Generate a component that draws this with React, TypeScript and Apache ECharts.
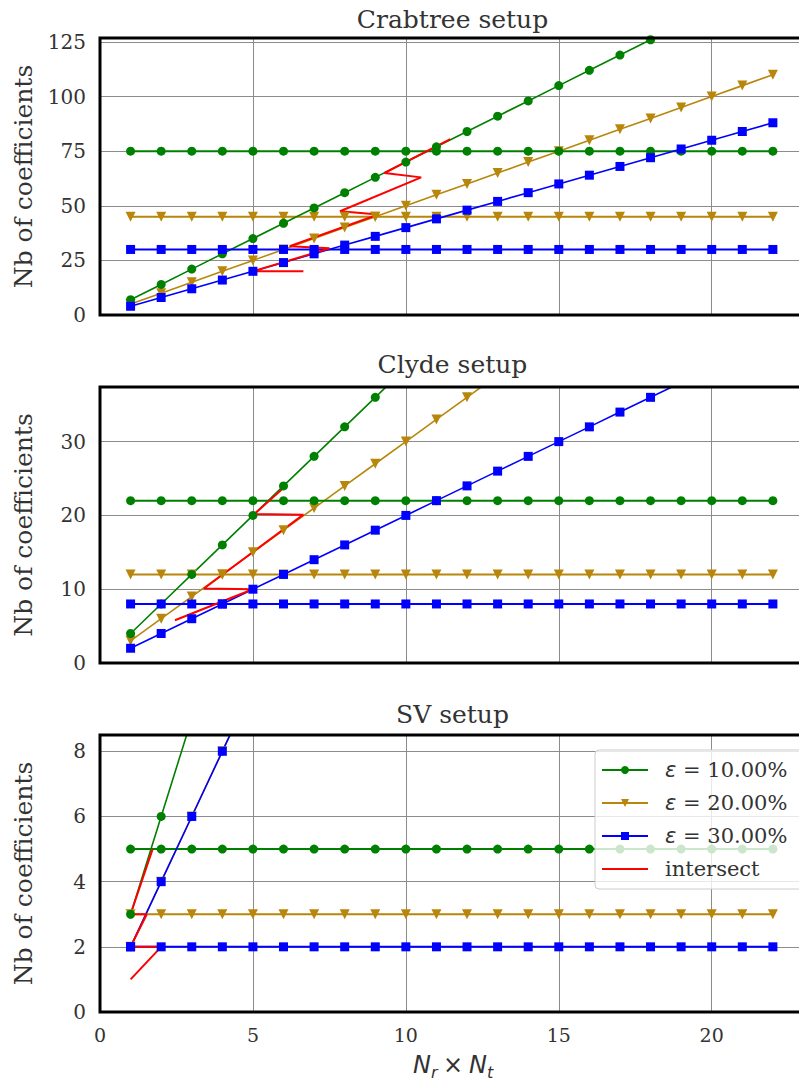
import React, { useEffect, useRef } from "react";
import * as echarts from "echarts";

// ---------- data ----------
const nrNt = [1, 2, 3, 4, 5, 6, 7, 8, 9, 10, 11, 12, 13, 14, 15, 16, 17, 18, 19, 20, 21, 22];

const legendNames = ["ε = 10.00%", "ε = 20.00%", "ε = 30.00%", "intersect"];

// Crabtree setup
const crabEps10 = [7, 14, 21, 28, 35, 42, 49, 56, 63, 70, 77, 84, 91, 98, 105, 112, 119, 126, 133];
const crabEps20 = [5, 10, 15, 20, 25, 30, 35, 40, 45, 50, 55, 60, 65, 70, 75, 80, 85, 90, 95, 100, 105, 110];
const crabEps30 = [4, 8, 12, 16, 20, 24, 28, 32, 36, 40, 44, 48, 52, 56, 60, 64, 68, 72, 76, 80, 84, 88];
const crabFlat10 = [75, 75, 75, 75, 75, 75, 75, 75, 75, 75, 75, 75, 75, 75, 75, 75, 75, 75, 75, 75, 75, 75];
const crabFlat20 = [45, 45, 45, 45, 45, 45, 45, 45, 45, 45, 45, 45, 45, 45, 45, 45, 45, 45, 45, 45, 45, 45];
const crabFlat30 = [30, 30, 30, 30, 30, 30, 30, 30, 30, 30, 30, 30, 30, 30, 30, 30, 30, 30, 30, 30, 30, 30];
const crabInterX = [6.65, 5.0, 7.5, 6.2, 9.1, 7.85, 10.5, 9.3, 11.45];
const crabInterY = [20, 20, 30.5, 31.5, 46, 47.5, 63, 65, 80.5];

// Clyde setup
const clydeEps10 = [4, 8, 12, 16, 20, 24, 28, 32, 36, 40];
const clydeEps20 = [3, 6, 9, 12, 15, 18, 21, 24, 27, 30, 33, 36, 39];
const clydeEps30 = [2, 4, 6, 8, 10, 12, 14, 16, 18, 20, 22, 24, 26, 28, 30, 32, 34, 36, 38];
const clydeFlat10 = [22, 22, 22, 22, 22, 22, 22, 22, 22, 22, 22, 22, 22, 22, 22, 22, 22, 22, 22, 22, 22, 22];
const clydeFlat20 = [12, 12, 12, 12, 12, 12, 12, 12, 12, 12, 12, 12, 12, 12, 12, 12, 12, 12, 12, 12, 12, 12];
const clydeFlat30 = [8, 8, 8, 8, 8, 8, 8, 8, 8, 8, 8, 8, 8, 8, 8, 8, 8, 8, 8, 8, 8, 8];
const clydeInterX = [2.45, 5.0, 3.4, 6.65, 5.05, 6.05];
const clydeInterY = [5.8, 10, 10.1, 20.1, 20.2, 23.9];

// SV setup
const svEps10 = [3, 6, 9];
const svEps20 = [2, 4, 6, 8, 10];
const svEps30 = [2, 4, 6, 8, 10];
const svFlat10 = [5, 5, 5, 5, 5, 5, 5, 5, 5, 5, 5, 5, 5, 5, 5, 5, 5, 5, 5, 5, 5, 5];
const svFlat20 = [3, 3, 3, 3, 3, 3, 3, 3, 3, 3, 3, 3, 3, 3, 3, 3, 3, 3, 3, 3, 3, 3];
const svFlat30 = [2, 2, 2, 2, 2, 2, 2, 2, 2, 2, 2, 2, 2, 2, 2, 2, 2, 2, 2, 2, 2, 2];
const svInterX = [1, 2, 1, 1.53, 1, 1.72];
const svInterY = [1, 2, 2, 3, 3, 5];

const panelTitles = ["Crabtree setup", "Clyde setup", "SV setup"];
const yMax = [126.8, 37.4, 8.5];
const yStep = [25, 10, 2];
const xMax = 23.05;
const xStep = 5;

// ---------- style ----------
const GREEN = "#008000";
const GOLD = "#b8860b";
const BLUE = "#0000ff";
const RED = "#ff0000";
const TXT = "#333333";
const SERIF = "'DejaVu Serif', serif";

const gridLeft = 100;
const gridWidth = 705;
const gridTops = [38, 387, 735];
const gridHeights = [277, 276, 277];
const titleY = [19.5, 364.5, 714.5];

function pairs(ys: number[], xs: number[] = nrNt) {
  return ys.map((y, i) => [xs[i], y]);
}

function line(name: string, color: string, symbol: string, rotate: number, data: number[][], g: number, width = 2) {
  return {
    type: "line",
    name,
    xAxisIndex: g,
    yAxisIndex: g,
    data,
    symbol,
    symbolSize: symbol === "triangle" ? 10 : 9,
    symbolRotate: rotate,
    showSymbol: symbol !== "none",
    showAllSymbol: true,
    clip: true,
    lineStyle: { color, width },
    itemStyle: { color },
    emphasis: { disabled: true },
    silent: true,
  };
}

function panelSeries(g: number, e10: number[], e20: number[], e30: number[], f10: number[], f20: number[], f30: number[], ix: number[], iy: number[]) {
  return [
    line(legendNames[1], GOLD, "triangle", 180, pairs(e20), g, 1.6),
    line(legendNames[1], GOLD, "triangle", 180, pairs(f20), g),
    line(legendNames[0], GREEN, "circle", 0, pairs(e10), g, 1.6),
    line(legendNames[0], GREEN, "circle", 0, pairs(f10), g),
    line(legendNames[2], BLUE, "rect", 0, pairs(e30), g, 1.6),
    line(legendNames[2], BLUE, "rect", 0, pairs(f30), g),
    line(legendNames[3], RED, "none", 0, pairs(iy, ix), g),
  ];
}

export default function App() {
  const ref = useRef<HTMLDivElement>(null);

  useEffect(() => {
    if (!ref.current) return;
    const chart = echarts.init(ref.current, undefined, { renderer: "svg" });

    const grids = [0, 1, 2].map((i) => ({
      left: gridLeft,
      top: gridTops[i],
      width: gridWidth,
      height: gridHeights[i],
      show: false,
      containLabel: false,
      outerBoundsMode: "none",
    }));

    const xAxes = [0, 1, 2].map((i) => ({
      type: "value",
      gridIndex: i,
      min: 0,
      max: xMax,
      interval: xStep,
      axisLine: { show: false },
      axisTick: { show: false },
      axisLabel: {
        show: i === 2,
        margin: 13,
        color: TXT,
        fontFamily: SERIF,
        fontSize: 19,
        formatter: (v: number) => (v % xStep === 0 ? String(v) : ""),
      },
      splitLine: { show: true, lineStyle: { color: "#8c8c8c", width: 1 } },
    }));

    const yAxes = [0, 1, 2].map((i) => ({
      type: "value",
      gridIndex: i,
      min: 0,
      max: yMax[i],
      interval: yStep[i],
      name: "Nb of coefficients",
      nameLocation: "middle",
      nameGap: 64,
      nameTextStyle: { color: TXT, fontFamily: SERIF, fontSize: 25 },
      axisLine: { show: false },
      axisTick: { show: false },
      axisLabel: {
        margin: 14,
        color: TXT,
        fontFamily: SERIF,
        fontSize: 20,
        formatter: (v: number) => (Math.abs(v % yStep[i]) < 1e-9 ? String(v) : ""),
      },
      splitLine: { show: true, lineStyle: { color: "#8c8c8c", width: 1 } },
    }));

    const series = [
      ...panelSeries(0, crabEps10, crabEps20, crabEps30, crabFlat10, crabFlat20, crabFlat30, crabInterX, crabInterY),
      ...panelSeries(1, clydeEps10, clydeEps20, clydeEps30, clydeFlat10, clydeFlat20, clydeFlat30, clydeInterX, clydeInterY),
      ...panelSeries(2, svEps10, svEps20, svEps30, svFlat10, svFlat20, svFlat30, svInterX, svInterY),
    ];

    const titleTexts = panelTitles.map((t, i) => ({
      type: "text",
      x: gridLeft + gridWidth / 2,
      y: titleY[i],
      silent: true,
      style: { text: t, fill: TXT, font: `25px ${SERIF}`, align: "center", verticalAlign: "middle" },
    }));

    const frames = [0, 1, 2].map((i) => ({
      type: "rect",
      silent: true,
      z: 50,
      shape: { x: gridLeft, y: gridTops[i], width: gridWidth, height: gridHeights[i] },
      style: { fill: "none", stroke: "#000", lineWidth: 3 },
    }));

    const italic = "italic 24px 'DejaVu Sans'";
    const italicSub = "italic 16px 'DejaVu Sans'";
    const xLabel = {
      type: "group",
      silent: true,
      children: [
        { type: "text", x: 413, y: 1065, style: { text: "N", fill: TXT, font: italic, verticalAlign: "middle" } },
        { type: "text", x: 431, y: 1072, style: { text: "r", fill: TXT, font: italicSub, verticalAlign: "middle" } },
        { type: "text", x: 443, y: 1065, style: { text: "×", fill: TXT, font: "24px 'DejaVu Sans'", verticalAlign: "middle" } },
        { type: "text", x: 469, y: 1065, style: { text: "N", fill: TXT, font: italic, verticalAlign: "middle" } },
        { type: "text", x: 487, y: 1072, style: { text: "t", fill: TXT, font: italicSub, verticalAlign: "middle" } },
      ],
    };

    chart.setOption({
      animation: false,
      backgroundColor: "#ffffff",
      grid: grids,
      xAxis: xAxes,
      yAxis: yAxes,
      series,
      legend: {
        data: [
          legendNames[0],
          legendNames[1],
          legendNames[2],
          { name: legendNames[3], itemStyle: { opacity: 0 } },
        ],
        orient: "vertical",
        left: 595,
        top: 750,
        z: 60,
        itemWidth: 46,
        itemHeight: 10,
        itemGap: 11,
        padding: [9, 40, 9, 6],
        backgroundColor: "rgba(255,255,255,0.8)",
        borderColor: "#cccccc",
        borderWidth: 1,
        borderRadius: 4,
        selectedMode: false,
        textStyle: {
          color: TXT,
          fontFamily: SERIF,
          fontSize: 21,
          lineHeight: 22,
          padding: [0, 0, 0, 12],
          rich: {
            e: { fontFamily: "'DejaVu Sans'", fontStyle: "italic", fontSize: 21, color: TXT },
          },
        },
        formatter: (name: string) => (name.startsWith("ε") ? "{e|ε}" + name.slice(1) : name),
      },
      graphic: [...titleTexts, ...frames, xLabel],
    });

    return () => chart.dispose();
  }, []);

  return (
    <div
      ref={ref}
      style={{ position: "absolute", left: 0, top: 0, width: 799, height: 1084, background: "#fff" }}
    />
  );
}
